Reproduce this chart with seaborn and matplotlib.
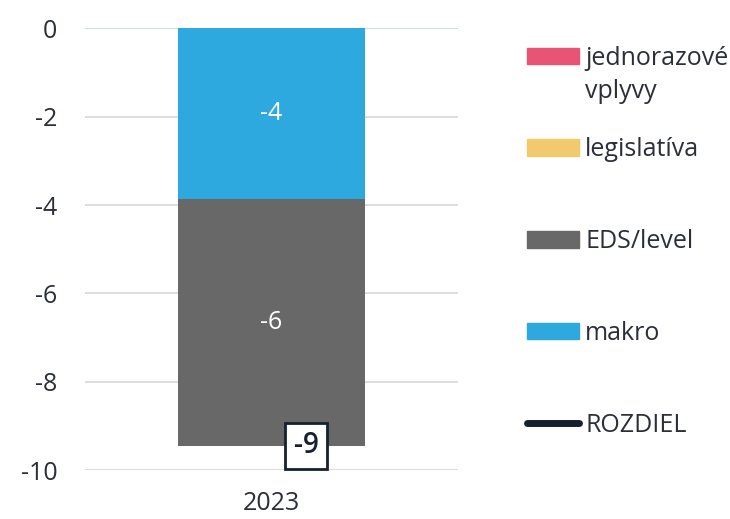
import matplotlib
matplotlib.use("Agg")
import matplotlib.pyplot as plt
import matplotlib.patches as mpatches
import matplotlib.lines as mlines
import numpy as np
import pandas as pd
import seaborn as sns

# data
years = ["2023"]
makro = [-3.86]
eds_level = [-5.59]
legislativa = [0.0]
jednorazove = [0.0]
rozdiel = [-9.45]

legend_labels = ["jednorazové vplyvy", "legislatíva", "EDS/level", "makro", "ROZDIEL"]
colors = {"jednorazové vplyvy": "#E75475", "legislatíva": "#F2C96D",
          "EDS/level": "#686868", "makro": "#2EA9DF", "ROZDIEL": "#16202E"}
y_ticks = [0, -2, -4, -6, -8, -10]

sns.set_theme(style="white")
plt.rcParams["font.family"] = ["Open Sans", "DejaVu Sans"]
text_color = "#2B2F3A"

df = pd.DataFrame({"year": years, "makro": makro, "eds": eds_level})
df["cum_eds"] = df["makro"] + df["eds"]

fig = plt.figure(figsize=(7.3, 5.19), dpi=100)
ax = fig.add_axes([0.1164, 0.0944, 0.5110, 0.8507])

# stacked: draw cumulative first, then the top segment over it
sns.barplot(data=df, x="year", y="cum_eds", color=colors["EDS/level"], width=0.5,
            saturation=1, linewidth=0, ax=ax, zorder=3)
sns.barplot(data=df, x="year", y="makro", color=colors["makro"], width=0.5,
            saturation=1, linewidth=0, ax=ax, zorder=3)

# segment labels
for i, row in df.iterrows():
    ax.text(i, row["makro"] / 2, f"{row['makro']:.0f}", ha="center", va="center",
            color="white", fontsize=18, zorder=5)
    ax.text(i, row["makro"] + row["eds"] / 2, f"{row['eds']:.0f}", ha="center", va="center",
            color="white", fontsize=18, zorder=5)
    ax.text(i + 0.0925, rozdiel[i], f"{rozdiel[i]:.0f}", ha="center", va="center",
            color="#16202E", fontsize=20, fontweight="semibold", zorder=6,
            bbox=dict(boxstyle="square,pad=0.3", fc="white", ec="#16202E", lw=2))

ax.set_xlim(-0.5, 0.5)
ax.set_ylim(-10, 0)
ax.set_yticks(y_ticks)
ax.set_yticklabels([str(t) for t in y_ticks])
ax.set_xlabel("")
ax.set_ylabel("")
ax.grid(axis="y", color="#DADADA", linewidth=1.3, zorder=0)
ax.axhline(0, color="#CFDDEE", linewidth=1.5, zorder=1)
for s in ax.spines.values():
    s.set_visible(False)
ax.tick_params(axis="y", length=0, pad=20, labelsize=18, labelcolor=text_color)
ax.tick_params(axis="x", length=0, pad=15, labelsize=18, labelcolor=text_color)

# legend
handles = []
for lab in legend_labels:
    if lab == "ROZDIEL":
        handles.append(mlines.Line2D([], [], color=colors[lab], lw=5, solid_capstyle="round"))
    else:
        handles.append(mpatches.Patch(color=colors[lab]))
shown = [lab.split(" ")[0] for lab in legend_labels]
leg = fig.legend(handles, shown, loc="upper left", bbox_to_anchor=(0.722, 0.912),
                 frameon=False, fontsize=18, handlelength=2.08, handleheight=0.64,
                 handletextpad=0.24, labelspacing=2.67, borderpad=0, borderaxespad=0,
                 labelcolor=text_color)
# second line of the two-word label
first = legend_labels[0].split(" ", 1)[1]
fig.canvas.draw()
ax.annotate(first, xy=(0, 0), xycoords=leg.get_texts()[0], xytext=(0, -6),
            textcoords="offset points", ha="left", va="top", fontsize=18, color=text_color)

fig.savefig("out.png", dpi=100)
